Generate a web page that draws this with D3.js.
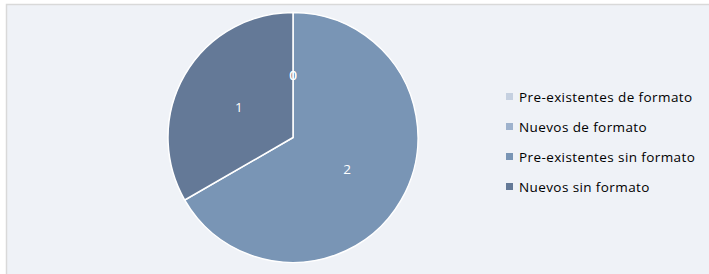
<!DOCTYPE html>
<html>
<head>
<meta charset="utf-8">
<script src="https://cdn.jsdelivr.net/npm/d3@7"></script>
<style>
  html, body { margin: 0; padding: 0; background: #fff; }
  svg { display: block; }
</style>
</head>
<body>
<div id="content"></div>
<script>
const categories = ['Pre-existentes de formato', 'Nuevos de formato', 'Pre-existentes sin formato', 'Nuevos sin formato'];
const values = [0, 0, 2, 1];
const colors = ['#c5d0e0', '#9eb2cd', '#7995b5', '#647997'];

const width = 709;
const height = 274;

const svg = d3.select('#content').append('svg')
    .attr('width', width)
    .attr('height', height);

// chart area frame
svg.append('rect')
    .attr('x', 6.5)
    .attr('y', 4.5)
    .attr('width', width + 10)
    .attr('height', height + 10)
    .style('fill', '#eff2f7')
    .style('stroke', '#d9d9d9')
    .style('stroke-width', 1.5);

const data = categories.map((name, i) => ({ name, value: values[i], color: colors[i] }));

const pie = d3.pie().sort(null).value(d => d.value);
const radius = 125;
const arc = d3.arc().innerRadius(0).outerRadius(radius);
const labelArc = d3.arc().innerRadius(radius * 0.5).outerRadius(radius * 0.5);

const g = svg.append('g').attr('transform', 'translate(293,137.5)');

const arcs = pie(data);

g.selectAll('.slice')
    .data(arcs)
    .enter()
    .append('path')
    .attr('class', 'slice')
    .attr('d', arc)
    .style('fill', d => d.data.color)
    .style('stroke', '#fff')
    .style('stroke-width', 1.5)
    .style('stroke-linejoin', 'round');

g.selectAll('.label')
    .data(arcs)
    .enter()
    .append('text')
    .attr('class', 'label')
    .attr('transform', d => `translate(${labelArc.centroid(d)})`)
    .attr('text-anchor', 'middle')
    .attr('dy', '0.4em')
    .style('fill', '#fff')
    .style('font-family', 'Open Sans, sans-serif')
    .style('font-size', '13.5px')
    .text(d => d.data.value);

const legend = svg.append('g').attr('transform', 'translate(506,97)');
const row = legend.selectAll('.item')
    .data(data)
    .enter()
    .append('g')
    .attr('class', 'item')
    .attr('transform', (d, i) => `translate(0,${i * 30})`);

row.append('rect')
    .attr('x', 0)
    .attr('y', -4)
    .attr('width', 7)
    .attr('height', 7)
    .style('fill', d => d.color);

row.append('text')
    .attr('x', 13)
    .attr('dy', '0.37em')
    .style('fill', '#000')
    .style('font-family', 'Open Sans, sans-serif')
    .style('font-size', '13.5px')
    .style('letter-spacing', '0.4px')
    .text(d => d.name);
</script>
</body>
</html>
